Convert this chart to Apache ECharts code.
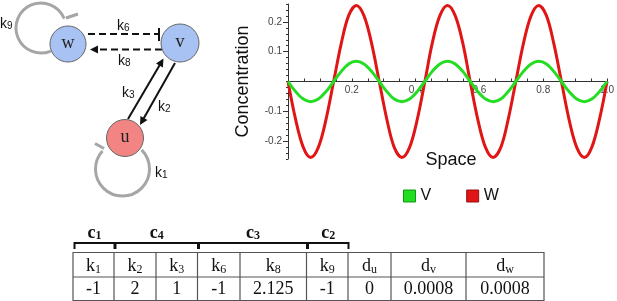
<!DOCTYPE html>
<html>
<head>
<meta charset="utf-8">
<script src="https://cdn.jsdelivr.net/npm/echarts@6/dist/echarts.min.js"></script>
<style>
html, body { margin: 0; padding: 0; background: #fff; }
#Chart { width: 617px; height: 301px; }
</style>
</head>
<body>
<div id="Chart"></div>
<script>
// values (space, V, W)
var spacePoints = [0, 0.024, 0.048, 0.071, 0.095, 0.119, 0.143, 0.167, 0.19, 0.214, 0.238, 0.262,
    0.286, 0.31, 0.333, 0.357, 0.381, 0.405, 0.429, 0.452, 0.476, 0.5, 0.524, 0.548,
    0.571, 0.595, 0.619, 0.643, 0.667, 0.69, 0.714, 0.738, 0.762, 0.786, 0.81, 0.833,
    0.857, 0.881, 0.905, 0.929, 0.952, 0.976, 1.0];
var vValues = [0, -0.034, -0.059, -0.068, -0.059, -0.034, 0, 0.034, 0.059, 0.068, 0.059, 0.034,
    0, -0.034, -0.059, -0.068, -0.059, -0.034, 0, 0.034, 0.059, 0.068, 0.059, 0.034,
    0, -0.034, -0.059, -0.068, -0.059, -0.034, 0, 0.034, 0.059, 0.068, 0.059, 0.034,
    0, -0.034, -0.059, -0.068, -0.059, -0.034, 0];
var wValues = [0, -0.128, -0.221, -0.255, -0.221, -0.128, 0, 0.128, 0.221, 0.255, 0.221, 0.128,
    0, -0.128, -0.221, -0.255, -0.221, -0.128, 0, 0.128, 0.221, 0.255, 0.221, 0.128,
    0, -0.128, -0.221, -0.255, -0.221, -0.128, 0, 0.128, 0.221, 0.255, 0.221, 0.128,
    0, -0.128, -0.221, -0.255, -0.221, -0.128, 0];
var xTickLabels = [0.2, 0.4, 0.6, 0.8, 1.0];
var yTickLabels = [-0.2, -0.1, 0.1, 0.2];

// parameter table
var paramNames = [['k', '1'], ['k', '2'], ['k', '3'], ['k', '6'], ['k', '8'], ['k', '9'], ['d', 'u'], ['d', 'v'], ['d', 'w']];
var paramValues = ['-1', '2', '1', '-1', '2.125', '-1', '0', '0.0008', '0.0008'];
var groupNames = [['c', '1'], ['c', '4'], ['c', '3'], ['c', '2']];
var groupSpans = [[0, 0], [1, 2], [3, 4], [5, 5]];

// layout (pixels)
var colEdges = [73, 114, 156, 197.5, 240, 306.5, 348, 391, 466, 544];
var rowEdges = [252.5, 277, 300.5];
var SERIF = "'Liberation Serif', 'DejaVu Serif', serif";
var SANS = "'Liberation Sans', Arial, sans-serif";

function subText(base, sub, size, bold) {
    return {
        text: '{b|' + base + '}{s|' + sub + '}',
        rich: {
            b: { fontSize: size, fontFamily: SERIF, fontWeight: bold ? 'bold' : 'normal', lineHeight: size + 4, verticalAlign: 'bottom', fill: '#111' },
            s: { fontSize: Math.round(size * 0.68), fontFamily: SERIF, fontWeight: bold ? 'bold' : 'normal', lineHeight: Math.round(size * 0.55), verticalAlign: 'bottom', fill: '#111' }
        },
        align: 'center',
        verticalAlign: 'middle'
    };
}

function kLabel(sub, x, y) {
    return {
        type: 'text', x: x, y: y,
        style: {
            text: '{b|k}{s|' + sub + '}',
            rich: {
                b: { fontSize: 14, fontFamily: SANS, lineHeight: 18, verticalAlign: 'bottom', fill: '#111' },
                s: { fontSize: 10, fontFamily: SANS, lineHeight: 8, verticalAlign: 'bottom', fill: '#111' }
            },
            align: 'left', verticalAlign: 'middle'
        }
    };
}

function arrowLine(x1, y1, x2, y2, dashed) {
    var dx = x2 - x1, dy = y2 - y1, len = Math.sqrt(dx * dx + dy * dy);
    var ux = dx / len, uy = dy / len, hl = 8, hw = 4;
    var bx = x2 - ux * hl, by = y2 - uy * hl;
    return [
        { type: 'line', shape: { x1: x1, y1: y1, x2: bx + ux * 2, y2: by + uy * 2 },
          style: { stroke: '#111', lineWidth: 2, lineDash: dashed ? [7, 4] : null } },
        { type: 'polygon', shape: { points: [[x2, y2], [bx - uy * hw, by + ux * hw], [bx + uy * hw, by - ux * hw]] },
          style: { fill: '#111' } }
    ];
}

function loop(cx, cy, r, a0, a1, bar) {
    return [
        { type: 'arc', shape: { cx: cx, cy: cy, r: r, startAngle: a0 * Math.PI / 180, endAngle: a1 * Math.PI / 180, clockwise: true },
          style: { stroke: '#a6a6a6', fill: null, lineWidth: 3 } },
        { type: 'line', shape: { x1: bar[0], y1: bar[1], x2: bar[2], y2: bar[3] },
          style: { stroke: '#a6a6a6', lineWidth: 3 } }
    ];
}

function node(cx, cy, r, color, label) {
    return [
        { type: 'circle', shape: { cx: cx, cy: cy, r: r }, style: { fill: color, stroke: '#666', lineWidth: 1 } },
        { type: 'text', x: cx, y: cy - 1, style: { text: label, fontSize: 18, fontFamily: SERIF, fill: '#222', align: 'center', verticalAlign: 'middle' } }
    ];
}

var graphics = [];
// network diagram
graphics = graphics.concat(loop(41, 28, 25, 67, 338, [66, 18, 78, 14]));
graphics = graphics.concat(loop(122.5, 169, 27, -45, 222, [95, 143.5, 104, 148.5]));
graphics.push({ type: 'line', shape: { x1: 88, y1: 34, x2: 158, y2: 34 }, style: { stroke: '#111', lineWidth: 2, lineDash: [7, 4] } });
graphics.push({ type: 'line', shape: { x1: 159, y1: 28, x2: 159, y2: 41 }, style: { stroke: '#111', lineWidth: 2 } });
graphics = graphics.concat(arrowLine(162, 49.5, 90, 49.5, true));
graphics = graphics.concat(arrowLine(128, 119, 163.5, 58.5, false));
graphics = graphics.concat(arrowLine(175, 63, 140, 125, false));
graphics = graphics.concat(node(68, 44, 18, '#a8c3f3', 'w'));
graphics = graphics.concat(node(180, 43, 19, '#a8c3f3', 'v'));
graphics = graphics.concat(node(125, 138, 18.5, '#f28484', 'u'));
graphics.push(kLabel('9', 0, 22));
graphics.push(kLabel('6', 117, 24));
graphics.push(kLabel('8', 118, 59));
graphics.push(kLabel('3', 122, 91));
graphics.push(kLabel('2', 158, 105));
graphics.push(kLabel('1', 155, 171));

// axis title under the plot
graphics.push({ type: 'text', x: 451, y: 160, style: { text: 'Space', fontSize: 18, fontFamily: SANS, fill: '#111', align: 'center', verticalAlign: 'middle' } });

// table grid
graphics.push({ type: 'rect', shape: { x: colEdges[0], y: rowEdges[0], width: colEdges[colEdges.length - 1] - colEdges[0], height: rowEdges[2] - rowEdges[0] },
    style: { fill: null, stroke: '#555', lineWidth: 1.2 } });
graphics.push({ type: 'line', shape: { x1: colEdges[0], y1: rowEdges[1], x2: colEdges[colEdges.length - 1], y2: rowEdges[1] }, style: { stroke: '#555', lineWidth: 1.2 } });
for (var i = 1; i < colEdges.length - 1; i++) {
    graphics.push({ type: 'line', shape: { x1: colEdges[i], y1: rowEdges[0], x2: colEdges[i], y2: rowEdges[2] }, style: { stroke: '#555', lineWidth: 1.2 } });
}
paramNames.forEach(function (p, i) {
    var cx = (colEdges[i] + colEdges[i + 1]) / 2;
    graphics.push({ type: 'text', x: cx, y: (rowEdges[0] + rowEdges[1]) / 2, style: subText(p[0], p[1], 18, false) });
    graphics.push({ type: 'text', x: cx, y: (rowEdges[1] + rowEdges[2]) / 2 + 0.5,
        style: { text: paramValues[i], fontSize: 18, fontFamily: SERIF, fill: '#111', align: 'center', verticalAlign: 'middle' } });
});
groupNames.forEach(function (g, i) {
    var x1 = colEdges[groupSpans[i][0]] + 1.5, x2 = colEdges[groupSpans[i][1] + 1] + 0.5;
    graphics.push({ type: 'polyline', shape: { points: [[x1, 249], [x1, 243], [x2, 243], [x2, 249]] },
        style: { stroke: '#111', lineWidth: 2, fill: null } });
    graphics.push({ type: 'text', x: (x1 + x2) / 2, y: 231, style: subText(g[0], g[1], 18, true) });
});

var Chart = echarts.init(document.getElementById('Chart'));

// grid: top 4, height 155, y range +-0.26 -> zero line 77.5px above the grid bottom
var ChartOption = {
    animation: false,
    backgroundColor: '#fff',
    grid: { left: 288, right: 7, top: 4, bottom: 142 },
    legend: {
        left: 398, top: 183,
        itemWidth: 12, itemHeight: 12, itemGap: 35,
        textStyle: { fontSize: 16, fontFamily: SANS, color: '#111' },
        data: [
            { name: 'V', icon: 'rect', itemStyle: { color: '#22dd22', borderColor: '#119911', borderWidth: 1 } },
            { name: 'W', icon: 'rect', itemStyle: { color: '#e01515', borderColor: '#991111', borderWidth: 1 } }
        ]
    },
    xAxis: {
        type: 'value', min: 0, max: 1, interval: 0.05,
        position: 'bottom', offset: -77.5,
        axisLine: { onZero: false, lineStyle: { color: '#333', width: 1 } },
        axisTick: { show: true, inside: true, length: 3, lineStyle: { color: '#333' } },
        axisLabel: {
            customValues: xTickLabels, margin: 4, fontSize: 10, fontFamily: SANS, color: '#444',
            formatter: function (v) { return v.toFixed(1); }
        },
        splitLine: { show: false }
    },
    yAxis: [
        {
            type: 'value', min: -0.26, max: 0.26, interval: 0.02,
            axisLine: { show: true, onZero: false, lineStyle: { color: '#333', width: 1 } },
            axisTick: { show: true, length: 2, lineStyle: { color: '#333' } },
            axisLabel: { show: false },
            splitLine: { show: false },
            name: 'Concentration', nameLocation: 'middle', nameGap: 36, nameRotate: 90,
            nameTextStyle: { fontSize: 18, fontFamily: SANS, color: '#111' }
        },
        {
            type: 'value', min: -0.26, max: 0.26, position: 'left', offset: 0,
            axisLine: { show: false },
            axisTick: { show: true, length: 5, customValues: yTickLabels, lineStyle: { color: '#333' } },
            axisLabel: { customValues: yTickLabels, margin: 6, fontSize: 10, fontFamily: SANS, color: '#444' },
            splitLine: { show: false }
        }
    ],
    series: [
        {
            name: 'W', type: 'line', smooth: 0.35, showSymbol: false,
            lineStyle: { color: '#e01515', width: 3 }, itemStyle: { color: '#e01515' },
            data: spacePoints.map(function (x, i) { return [x, wValues[i]]; })
        },
        {
            name: 'V', type: 'line', smooth: 0.35, showSymbol: false,
            lineStyle: { color: '#22dd22', width: 3 }, itemStyle: { color: '#22dd22' },
            data: spacePoints.map(function (x, i) { return [x, vValues[i]]; })
        }
    ],
    graphic: graphics
};

Chart.setOption(ChartOption);

window.addEventListener("resize", function () {
    Chart.resize();
});
</script>
</body>
</html>
